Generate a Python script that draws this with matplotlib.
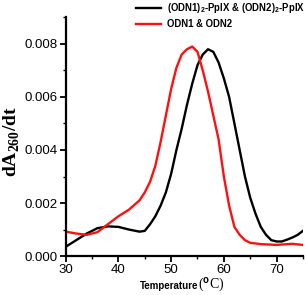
import matplotlib
matplotlib.use("Agg")
import matplotlib.pyplot as plt
from matplotlib.ticker import MultipleLocator, FormatStrFormatter

temp_red = [30, 32, 34, 36, 38, 40, 42, 44, 45, 46, 47, 48, 49, 50, 51, 52, 53, 54,
            55, 56, 57, 58, 59, 60, 61, 62, 63, 64, 65, 67, 70, 72, 73, 75]
ddt_red = [0.00092, 0.00085, 0.0008, 0.0009, 0.0012, 0.0015, 0.00175, 0.0021, 0.0024,
           0.0028, 0.0034, 0.0043, 0.0053, 0.0063, 0.0071, 0.0076, 0.0078, 0.0079,
           0.0077, 0.0070, 0.0062, 0.0053, 0.0044, 0.0030, 0.0019, 0.0011, 0.0008,
           0.0006, 0.0005, 0.00045, 0.00042, 0.00045, 0.00046, 0.00042]

temp_black = [30, 32, 34, 36, 38, 40, 42, 44, 45, 46, 47, 48, 49, 50, 51, 52, 53, 54,
              55, 56, 57, 58, 59, 60, 61, 62, 63, 64, 65, 66, 67, 68, 69, 70, 71, 72,
              73, 74, 75]
ddt_black = [0.00035, 0.0006, 0.00085, 0.00105, 0.00112, 0.0011, 0.001, 0.00092,
             0.00095, 0.0012, 0.0015, 0.0019, 0.0024, 0.0031, 0.0040, 0.0048, 0.0057,
             0.0065, 0.0072, 0.0076, 0.0078, 0.0077, 0.0073, 0.0067, 0.0060, 0.0050,
             0.0040, 0.0030, 0.0022, 0.0016, 0.0011, 0.0008, 0.0006, 0.00055, 0.00055,
             0.00062, 0.0007, 0.0008, 0.00095]

label_black = "(ODN1)$_2$-PpIX & (ODN2)$_2$-PpIX"
label_red = "ODN1 & ODN2"

plt.rcParams['font.family'] = ['Liberation Sans', 'DejaVu Sans']
plt.rcParams['mathtext.fontset'] = 'custom'
plt.rcParams['mathtext.rm'] = 'Liberation Sans:bold'
plt.rcParams['mathtext.it'] = 'Liberation Sans:bold'
plt.rcParams['mathtext.bf'] = 'Liberation Serif:bold'

fig = plt.figure(figsize=(3.06, 2.95), dpi=100)
ax = fig.add_axes([0.2147, 0.132, 0.7753, 0.809])

l1, = ax.plot(temp_black, ddt_black, color='black', lw=1.7, label=label_black)
l2, = ax.plot(temp_red, ddt_red, color='#ff1010', lw=1.7, label=label_red)

ax.set_xlim(30, 75)
ax.set_ylim(0, 0.009)
ax.xaxis.set_major_locator(MultipleLocator(10))
ax.xaxis.set_minor_locator(MultipleLocator(5))
ax.yaxis.set_major_locator(MultipleLocator(0.002))
ax.yaxis.set_minor_locator(MultipleLocator(0.001))
ax.yaxis.set_major_formatter(FormatStrFormatter('%.3f'))

for s in ['top', 'right']:
    ax.spines[s].set_visible(False)
for s in ['left', 'bottom']:
    ax.spines[s].set_linewidth(1.6)

ax.tick_params(which='major', direction='out', length=4, width=1.3, labelsize=9.5, pad=2)
ax.tick_params(which='minor', direction='out', length=2.5, width=1.0)

fig.text(0.036, 0.52, r'dA$_{\mathbf{260}}$/dt', rotation=90, va='center', ha='center',
         family='Liberation Serif', fontweight='bold', fontsize=14)

fig.text(0.458, 0.022, 'Temperature', ha='left', va='baseline', fontsize=7, fontweight='bold')
fig.text(0.647, 0.022, r'($^{\mathrm{o}}$C)', ha='left', va='baseline', fontsize=10,
         family='Liberation Serif')

fig.legend(handles=[l1, l2], loc='upper left', bbox_to_anchor=(0.417, 1.025),
           frameon=False, handlelength=2.6, handletextpad=0.6,
           labelspacing=0.4, prop={'weight': 'bold', 'size': 6.9})

fig.savefig('out.png', dpi=100)
